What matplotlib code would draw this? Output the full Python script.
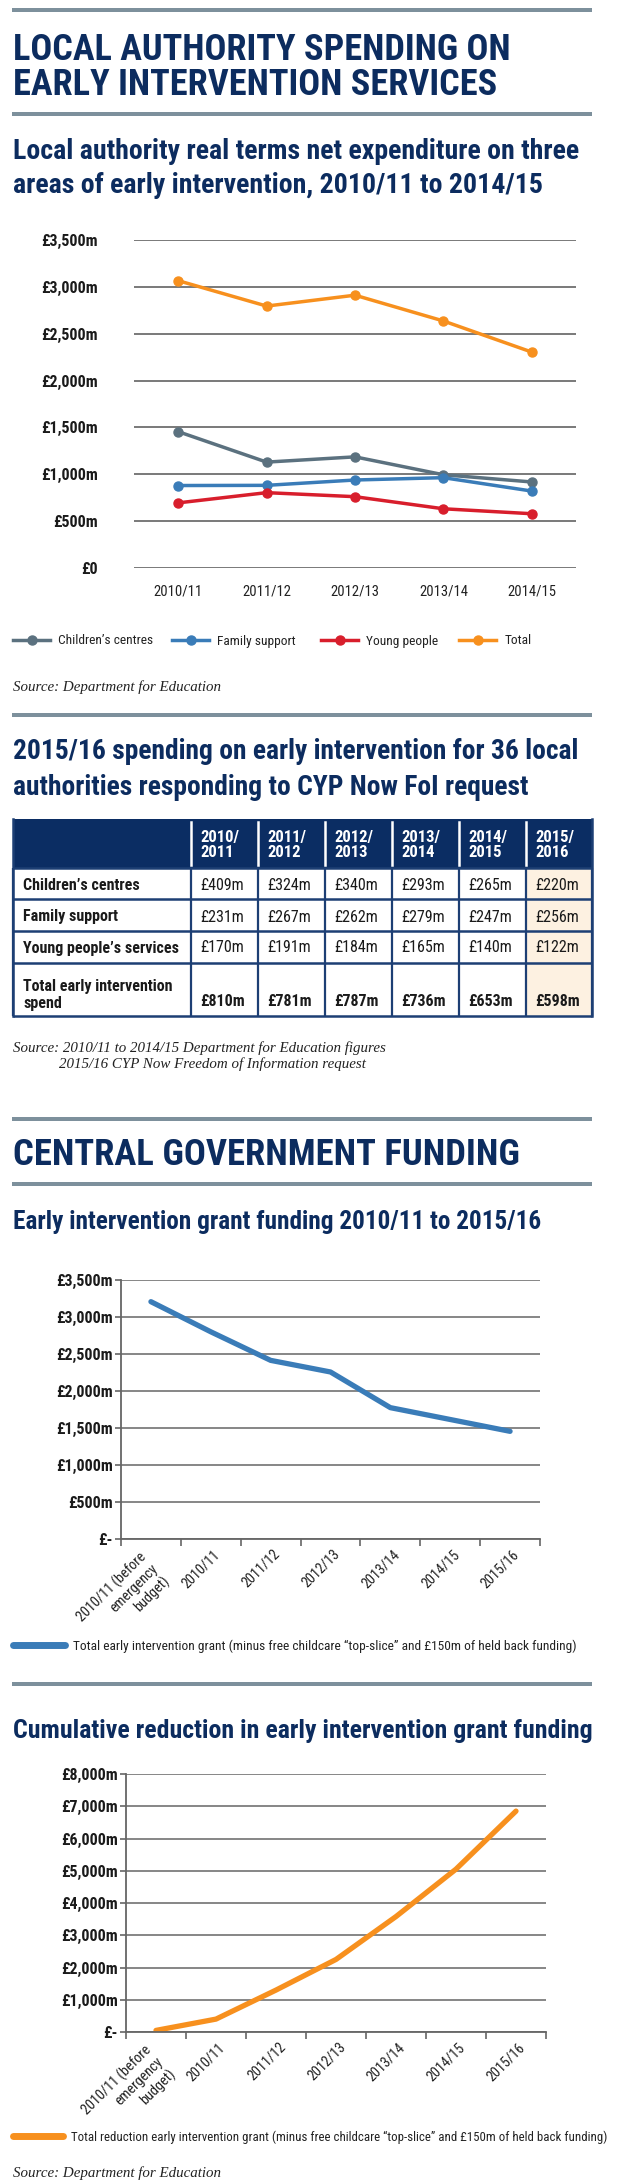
import matplotlib
matplotlib.use('Agg')
import matplotlib.pyplot as plt
from matplotlib import font_manager
from matplotlib.lines import Line2D
from matplotlib.patches import Rectangle
from matplotlib.transforms import ScaledTranslation

W, H = 620, 2183

# chart 1: real terms net expenditure (£m)
years = ['2010/11', '2011/12', '2012/13', '2013/14', '2014/15']
childrens_centres = [1455, 1130, 1186, 995, 918]
family_support = [880, 882, 939, 964, 821]
young_people = [695, 804, 761, 632, 579]
total = [3066, 2795, 2911, 2636, 2304]

# table: 36 local authorities (£m)
table_cols = ['2010/\n2011', '2011/\n2012', '2012/\n2013', '2013/\n2014', '2014/\n2015', '2015/\n2016']
table_rows = ['Children’s centres', 'Family support', 'Young people’s services', 'Total early intervention\nspend']
tbl_childrens = [409, 324, 340, 293, 265, 220]
tbl_family = [231, 267, 262, 279, 247, 256]
tbl_young = [170, 191, 184, 165, 140, 122]
tbl_total = [810, 781, 787, 736, 653, 598]

# charts 3 and 4: early intervention grant (£m)
grant_years = ['2010/11 (before\nemergency\nbudget)', '2010/11', '2011/12', '2012/13',
               '2013/14', '2014/15', '2015/16']
grant = [3207, 2800, 2414, 2257, 1775, 1615, 1455]
cum_reduction = [50, 400, 1300, 2250, 3580, 5050, 6850]

NAVY = '#0c2c5f'
RULE = '#7d909c'
GREY, BLUE, RED, ORANGE = '#5b717f', '#3a7cb8', '#d81e2c', '#f7901e'

names = {f.name for f in font_manager.fontManager.ttflist}


def pick(*cands):
    for c in cands:
        if c in names:
            return c
    return 'DejaVu Sans'


COND = pick('Roboto Condensed', 'Liberation Sans Narrow', 'Open Sans Condensed', 'Roboto')
SERIF = pick('Liberation Serif', 'DejaVu Serif')

fig = plt.figure(figsize=(W / 100, H / 100), dpi=100)
cv = fig.add_axes([0, 0, 1, 1])
cv.set_xlim(0, W)
cv.set_ylim(H, 0)
cv.axis('off')
fig.canvas.draw()
rend = fig.canvas.get_renderer()


def fit(x, y, s, width, size=None, **kw):
    t = cv.text(x, y, s, fontsize=size or 20, family=COND, **kw)
    if size is None:
        w = t.get_window_extent(renderer=rend).width
        size = 20 * width / w
        t.set_fontsize(size)
    return size


def rule(y):
    cv.add_patch(Rectangle((12, y - 2), 580, 4, color=RULE, lw=0))


def px_axes(x0, y0, x1, y1):
    return fig.add_axes([x0 / W, 1 - y1 / H, (x1 - x0) / W, (y1 - y0) / H], facecolor='none')


def shift(dx, dy):
    # offset in pixels (y down)
    return ScaledTranslation(dx / 100, -dy / 100, fig.dpi_scale_trans)


def money(v):
    return f'£{v:,}m'


title_kw = dict(color=NAVY, weight='bold', va='baseline')

# ---- section 1
rule(10)
s = fit(13, 60, 'LOCAL AUTHORITY SPENDING ON', 497, **title_kw)
fit(13, 95, 'EARLY INTERVENTION SERVICES', 0, s, **title_kw)
rule(114)
s = fit(13, 159, 'Local authority real terms net expenditure on three', 564, **title_kw)
fit(13, 193, 'areas of early intervention, 2010/11 to 2014/15', 0, s, **title_kw)

ax1 = px_axes(134, 240, 576, 568)
series = [(childrens_centres, GREY, 'Children’s centres'), (family_support, BLUE, 'Family support'),
          (young_people, RED, 'Young people'), (total, ORANGE, 'Total')]
for vals, col, lab in series:
    ax1.plot(range(len(years)), vals, color=col, lw=2.5, marker='o', ms=6.5, label=lab)
ax1.set_xlim(-0.5, len(years) - 0.5)
ax1.set_ylim(0, 3500)
ticks = list(range(0, 3501, 500))
ax1.set_yticks(ticks, labels=['£0' if v == 0 else money(v) for v in ticks],
               family=COND, weight='bold', fontsize=11.5, color='#1a1a1a')
ax1.set_xticks(range(len(years)), labels=years, family=COND, fontsize=10.5, color='#222')
ax1.grid(axis='y', color='#555', lw=1.1)
ax1.set_axisbelow(True)
for sp in ax1.spines.values():
    sp.set_visible(False)
ax1.tick_params(axis='y', length=0, pad=26)
ax1.tick_params(axis='x', length=0, pad=12)
# one legend entry per slot, as in the original layout
for line, x in zip(ax1.get_lines(), [13, 172, 321, 459]):
    fig.legend([line], [line.get_label()], loc='center left', bbox_to_anchor=(x / W, 1 - 641 / H),
               frameon=False, borderpad=0, borderaxespad=0, handlelength=2.8, handletextpad=0.6,
               prop=dict(family=COND, size=9.6), labelcolor='#222')
cv.text(13, 691, 'Source: Department for Education', family=SERIF, style='italic',
        fontsize=10.8, color='#222', va='baseline')

# ---- section 2: table
rule(715)
s = fit(13, 759, '2015/16 spending on early intervention for 36 local', 566, **title_kw)
fit(13, 795, 'authorities responding to CYP Now FoI request', 0, s, **title_kw)

col_edges = [13, 191, 258, 325, 392, 459, 526, 592]
row_edges = [819, 868, 899, 931, 963, 1016]
cv.add_patch(Rectangle((col_edges[-2], row_edges[1]), col_edges[-1] - col_edges[-2],
                       row_edges[-1] - row_edges[1], fc='#fdf1e1', lw=0))
cv.add_patch(Rectangle((col_edges[0], row_edges[0]), col_edges[-1] - col_edges[0],
                       row_edges[1] - row_edges[0], fc='#0b2d63', lw=0))
for y in row_edges[1:]:
    cv.plot([col_edges[0], col_edges[-1]], [y, y], color='#1d3f74', lw=1.8, solid_capstyle='butt')
for i, x in enumerate(col_edges):
    if 0 < i < len(col_edges) - 1:
        cv.plot([x, x], [row_edges[0] + 3, row_edges[1] - 3], color='white', lw=1.8)
    cv.plot([x, x], [row_edges[1], row_edges[-1]], color='#1d3f74', lw=1.6, solid_capstyle='butt')
cv.plot([col_edges[0], col_edges[0]], [row_edges[0], row_edges[-1]], color='#1d3f74', lw=1.8)
cv.plot([col_edges[-1], col_edges[-1]], [row_edges[0], row_edges[-1]], color='#1d3f74', lw=1.8)

for j, lab in enumerate(table_cols):
    cv.text(col_edges[j + 1] + 9, 845, lab, family=COND, weight='bold', color='white',
            fontsize=12, va='center', linespacing=1.0)
row_y = [885, 917, 948, 1001]
for lab, y in zip(table_rows, row_y):
    if '\n' in lab:
        cv.text(23, y + 7, lab, family=COND, weight='bold', color='#1a1a1a', fontsize=11.5,
                va='baseline', linespacing=1.2)
    else:
        cv.text(23, y, lab, family=COND, weight='bold', color='#1a1a1a', fontsize=11.5, va='center')
for vals, y, bold in [(tbl_childrens, 885, False), (tbl_family, 917, False),
                      (tbl_young, 948, False), (tbl_total, 1001, True)]:
    for j, v in enumerate(vals):
        cv.text(col_edges[j + 1] + 9, y, money(v), family=COND, color='#1a1a1a', fontsize=11.5,
                weight='bold' if bold else 'normal', va='center')
cv.text(13, 1052, 'Source: 2010/11 to 2014/15 Department for Education figures', family=SERIF,
        style='italic', fontsize=10.8, color='#222', va='baseline')
cv.text(59, 1068, '2015/16 CYP Now Freedom of Information request', family=SERIF,
        style='italic', fontsize=10.8, color='#222', va='baseline')

# ---- section 3: central government
rule(1119)
fit(13, 1165, 'CENTRAL GOVERNMENT FUNDING', 507, **title_kw)
rule(1184)
fit(13, 1229, 'Early intervention grant funding 2010/11 to 2015/16', 527, **title_kw)


def grant_chart(box, vals, top, step, col, legend_y, legend_text, legend_size):
    ax = px_axes(*box)
    ax.plot(range(len(grant_years)), vals, color=col, lw=3.8, solid_capstyle='round')
    ax.set_xlim(-0.5, len(grant_years) - 0.5)
    ax.set_ylim(0, top)
    tk = list(range(0, top + 1, step))
    ax.set_yticks(tk, labels=['£-' if v == 0 else money(v) for v in tk],
                  family=COND, weight='bold', fontsize=11.5, color='#1a1a1a')
    ax.set_xticks(range(len(grant_years)), labels=[''] * len(grant_years))
    # rotated category labels, placed like the spreadsheet chart did
    for i, lab in enumerate(grant_years):
        dx, dy = (5, 28) if '\n' in lab else (7, 13)
        ax.text(i, 0, lab, transform=ax.get_xaxis_transform() + shift(dx, dy), family=COND,
                fontsize=10.3, color='#222', rotation=45, ha='right', va='center',
                rotation_mode='anchor', multialignment='right')
    ax.set_xticks([i - 0.5 for i in range(len(grant_years) + 1)], minor=True)
    ax.grid(axis='y', color='#666', lw=1.1)
    ax.set_axisbelow(True)
    for k in ('top', 'right'):
        ax.spines[k].set_visible(False)
    for k in ('left', 'bottom'):
        ax.spines[k].set_color('#666')
        ax.spines[k].set_linewidth(1.3)
    ax.tick_params(axis='y', length=4, color='#666', width=1.2, pad=2)
    ax.tick_params(axis='x', which='major', length=0)
    ax.tick_params(axis='x', which='minor', length=5, color='#666', width=1.2)
    handle = Line2D([], [], color=col, lw=5, solid_capstyle='round')
    fig.legend([handle], [legend_text], loc='center left', bbox_to_anchor=(13 / W, 1 - legend_y / H),
               frameon=False, borderpad=0, borderaxespad=0, handlelength=3.9, handletextpad=0.6,
               prop=dict(family=COND, size=legend_size), labelcolor='#222')
    return ax


grant_chart((121, 1280, 540, 1539), grant, 3500, 500, BLUE, 1646,
            'Total early intervention grant (minus free childcare “top-slice” and £150m of held back funding)',
            9.6)

rule(1684)
fit(13, 1738, 'Cumulative reduction in early intervention grant funding', 580, **title_kw)
grant_chart((126, 1774, 546, 2032), cum_reduction, 8000, 1000, ORANGE, 2137,
            'Total reduction early intervention grant (minus free childcare “top-slice” and £150m of held back funding)',
            9.3)
cv.text(13, 2177, 'Source: Department for Education', family=SERIF, style='italic',
        fontsize=10.8, color='#222', va='baseline')

fig.savefig('out.png', dpi=100)
